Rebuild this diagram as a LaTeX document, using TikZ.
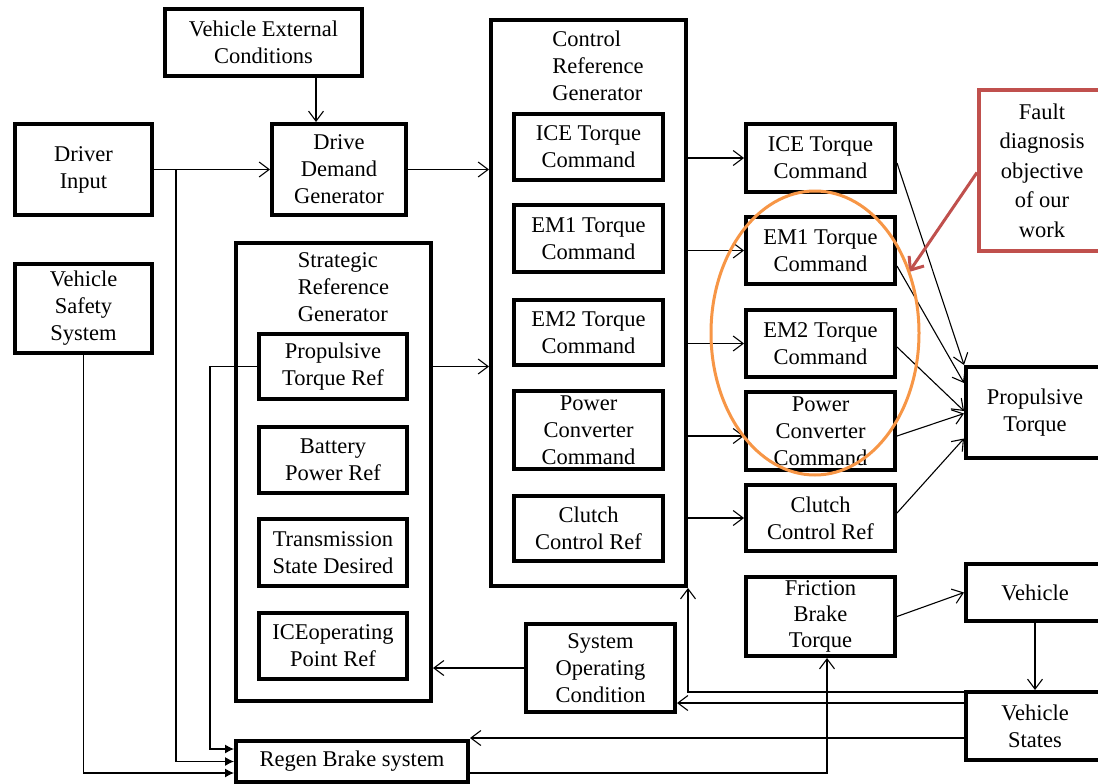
\documentclass[tikz,border=0pt]{standalone}
\usepackage{fontspec}
\setmainfont{Liberation Serif}
\usetikzlibrary{arrows.meta,calc}
\definecolor{hlorange}{HTML}{F79646}
\definecolor{notered}{HTML}{C0504D}

\begin{document}
\begin{tikzpicture}[x=1pt,y=-1pt,
  blk/.style={draw, line width=4pt, rectangle, inner sep=0pt, align=center,
              font=\fontsize{22.5}{27}\selectfont},
  lbl/.style={inner sep=0pt, align=left, font=\fontsize{22.5}{27}\selectfont},
  arr/.style={line width=1.1pt, -{Straight Barb[length=10pt,width=15pt]}},
  feed/.style={line width=1.1pt, -{Latex[length=9pt,width=9pt]}}]
\clip (0,0) rectangle (1098,784);
\fill[white] (0,0) rectangle (1098,784);

% left column
\node[blk, minimum width=197pt, minimum height=67pt] (vec) at (263.5,42.5) {Vehicle External\\Conditions};
\node[blk, minimum width=137pt, minimum height=91pt] (drv) at (83.5,169.5) {Driver\\Input};
\node[blk, minimum width=134pt, minimum height=91pt] (ddg) at (339,169.5) {Drive\\Demand\\Generator};
\node[blk, minimum width=137pt, minimum height=89pt] (vss) at (83.5,308.5) {Vehicle\\Safety\\System};

% strategic reference generator
\node[blk, minimum width=195pt, minimum height=458pt] (srg) at (333.5,472) {};
\node[lbl] (srgt) at (343.5,287) {Strategic\\Reference\\Generator};
\node[blk, minimum width=148pt, minimum height=65pt] (ptr) at (333,366.5) {Propulsive\\Torque Ref};
\node[blk, minimum width=148pt, minimum height=66pt] (bpr) at (333,460) {Battery\\Power Ref};
\node[blk, minimum width=148pt, minimum height=67pt] (tsd) at (333,552.5) {Transmission\\State Desired};
\node[blk, minimum width=148pt, minimum height=66pt] (iop) at (333,646) {ICEoperating\\Point Ref};
\node[blk, minimum width=232pt, minimum height=41pt] (regen) at (352,761.5) {Regen Brake system};

% control reference generator
\node[blk, minimum width=195pt, minimum height=566pt] (crg) at (588.5,303) {};
\node[lbl] (crgt) at (598,66) {Control\\Reference\\Generator};
\node[blk, minimum width=149pt, minimum height=66pt] (ici) at (588.5,147) {ICE Torque\\Command};
\node[blk, minimum width=149pt, minimum height=67pt] (em1i) at (588.5,238.5) {EM1 Torque\\Command};
\node[blk, minimum width=149pt, minimum height=65pt] (em2i) at (588.5,332.5) {EM2 Torque\\Command};
\node[blk, minimum width=149pt, minimum height=78pt] (pci) at (588.5,430) {Power\\Converter\\Command};
\node[blk, minimum width=149pt, minimum height=65pt] (cci) at (588.5,528.5) {Clutch\\Control Ref};
\node[blk, minimum width=149pt, minimum height=88pt] (soc) at (600.5,668) {System\\Operating\\Condition};

% actuator commands
\node[blk, minimum width=149pt, minimum height=68pt] (icr) at (820.5,158) {ICE Torque\\Command};
\node[blk, minimum width=149pt, minimum height=67pt] (em1r) at (820.5,250.5) {EM1 Torque\\Command};
\node[blk, minimum width=149pt, minimum height=67pt] (em2r) at (820.5,343.5) {EM2 Torque\\Command};
\node[blk, minimum width=149pt, minimum height=78pt] (pcr) at (820.5,431) {Power\\Converter\\Command};
\node[blk, minimum width=149pt, minimum height=66pt] (ccr) at (820.5,518) {Clutch\\Control Ref};
\node[blk, minimum width=149pt, minimum height=79pt, font=\fontsize{22.5}{26}\selectfont] (fbt) at (820.5,616.5) {Friction\\Brake\\Torque};

% plant side
\node[blk, minimum width=138pt, minimum height=91pt] (prt) at (1035,412.5) {Propulsive\\Torque};
\node[blk, minimum width=138pt, minimum height=57pt] (veh) at (1035,592.5) {Vehicle};
\node[blk, minimum width=138pt, minimum height=68pt] (vst) at (1035,726) {Vehicle\\States};
\node[blk, draw=notered, minimum width=126pt, minimum height=161pt,
      font=\fontsize{22.5}{29.5}\selectfont] (fault) at (1042,170.5) {Fault\\diagnosis\\objective\\of our\\work};

% helper coordinates
\coordinate (xv) at (316,0);
\coordinate (jd) at (176,169.5);
\coordinate (xf) at (827,0);
\coordinate (ya) at (0,692);
\coordinate (yb) at (0,703);
\coordinate (yc) at (0,738);
\coordinate (yd) at (0,773);
\coordinate (pcy) at ($(pcr.west)+(0,5)$);
\coordinate (tipf) at (909,272);
\coordinate (ring) at (815,333);

% upper signal flow
\draw[arr] (vec.south -| xv) -- (ddg.north -| xv);
\draw[arr] (drv) -- (ddg);
\draw[arr] (ddg.east) -- (ddg.east -| crg.west);
\draw[arr] (ptr.east -| srg.east) -- (ptr.east -| crg.west);

% inputs of the regen brake
\draw[feed] (jd) |- (regen.west);
\draw[feed] (vss.south) |- ($(regen.west)+(0,11.5)$);
\draw[feed] (ptr.west) -- ++(-47,0) |- ($(regen.west)+(0,-12.5)$);

% commands
\draw[arr] (icr.west -| crg.east) -- (icr.west);
\draw[arr] (em1r.west -| crg.east) -- (em1r.west);
\draw[arr] (em2r.west -| crg.east) -- (em2r.west);
\draw[arr] (pcy -| crg.east) -- (pcy);
\draw[arr] (ccr.west -| crg.east) -- (ccr.west);

% towards propulsive torque
\draw[arr] ($(icr.east)+(0,5)$) -- (prt.north west);
\draw[arr] ($(em1r.east)+(0,15.5)$) -- ($(prt.west)+(0,-29.5)$);
\draw[arr] ($(em2r.east)+(0,3.5)$) -- ($(prt.west)+(0,-1.5)$);
\draw[arr] ($(pcr.east)+(0,5)$) -- ($(prt.west)+(0,1)$);
\draw[arr] ($(ccr.east)+(0,-5)$) -- ($(prt.west)+(0,26)$);

% vehicle loop
\draw[arr] (fbt.east) -- (veh.west);
\draw[arr] (veh) -- (vst);
\draw[arr] (vst.west |- ya) -| (crg.south east);
\draw[arr] (vst.west |- yb) -- (soc.east |- yb);
\draw[arr] (vst.west |- yc) -- (regen.east |- yc);
\draw[arr] (regen.east |- yd) -| (fbt.south -| xf);
\draw[arr] (soc.west) -- (soc.west -| srg.east);

% annotation
\draw[notered, line width=3pt, -{Straight Barb[length=11pt,width=18pt]}] ($(fault.west)+(0,2)$) -- (tipf);
\draw[hlorange, line width=3pt] (ring) ellipse [x radius=104pt, y radius=142pt];
\end{tikzpicture}
\end{document}
